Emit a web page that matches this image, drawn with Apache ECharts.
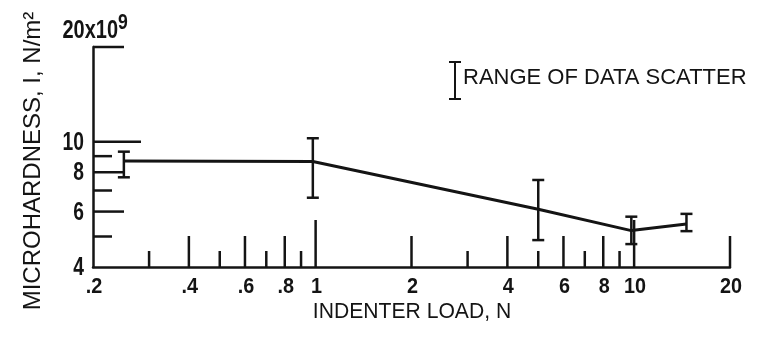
<!DOCTYPE html>
<html>
<head>
<meta charset="utf-8">
<script src="https://cdn.jsdelivr.net/npm/echarts@6/dist/echarts.min.js"></script>
<style>
  html, body { margin: 0; padding: 0; background: #fff; }
  #chart { width: 769px; height: 343px; }
</style>
</head>
<body>
<div id="chart"></div>
<script>
// axis ranges (log-log)
const xMin = 0.2, xMax = 20
const yMin = 4, yMax = 20

// measured points: indenter load (N) vs microhardness (x10^9 N/m^2)
const loads = [0.25, 0.98, 5, 9.8, 14.6]
const hardness = [8.69, 8.65, 6.1, 5.22, 5.48]
const scatterLow = [7.71, 6.64, 4.87, 4.73, 5.2]
const scatterHigh = [9.3, 10.26, 7.56, 5.78, 5.9]

// tick marks and labels
const xTicks = [0.3, 0.4, 0.5, 0.6, 0.7, 0.8, 0.9, 1, 2, 3, 4, 5, 6, 7, 8, 9, 10, 20]
const xLabelValues = [0.2, 0.4, 0.6, 0.8, 1, 2, 4, 6, 8, 10, 20]
const xLabelTexts = ['.2', '.4', '.6', '.8', '1', '2', '4', '6', '8', '10', '20']
const yTicks = [5, 6, 7, 8, 9, 10, 20]
const yLabelValues = [4, 6, 8, 10]
const yLabelTexts = ['4', '6', '8', '10']

const ink = '#141414'
const face = '"Liberation Sans", Arial, sans-serif'

// 1 -> long tick, 2/4/6/8 -> medium, 3/5/7/9 -> short
function mantissa(v) {
  return Math.round(v / Math.pow(10, Math.floor(Math.log10(v) + 1e-9)))
}
function xTickLen(v) {
  const m = mantissa(v)
  if (m === 1) return 47
  return m % 2 === 0 ? 31 : 16
}
function yTickLen(v) {
  const m = mantissa(v)
  if (m === 1) return 48
  return m % 2 === 0 ? 31 : 19
}

const chart = echarts.init(document.getElementById('chart'))

chart.setOption({
  animation: false,
  grid: { left: 93, right: 39, top: 47, bottom: 76 },
  xAxis: {
    type: 'log',
    logBase: 10,
    min: xMin,
    max: xMax,
    axisLine: { lineStyle: { color: ink, width: 2.5 } },
    axisTick: { show: false },
    axisLabel: { show: false },
    splitLine: { show: false }
  },
  yAxis: {
    type: 'log',
    logBase: 10,
    min: yMin,
    max: yMax,
    axisLine: { lineStyle: { color: ink, width: 2.5 } },
    axisTick: { show: false },
    axisLabel: { show: false },
    splitLine: { show: false }
  },
  graphic: [
    {
      type: 'text', x: 412, y: 312, scaleX: 0.96,
      style: { text: 'INDENTER LOAD, N', fill: ink, font: '22px ' + face, textAlign: 'center', textVerticalAlign: 'middle' }
    },
    {
      type: 'text', x: 33, y: 161, rotation: Math.PI / 2,
      style: { text: 'MICROHARDNESS, I, N/m\u00B2', fill: ink, font: '24px ' + face, textAlign: 'center', textVerticalAlign: 'middle' }
    },
    {
      type: 'group',
      x: 449,
      y: 62,
      children: [
        { type: 'line', shape: { x1: 6, y1: 0, x2: 6, y2: 37 }, style: { stroke: ink, lineWidth: 2 } },
        { type: 'line', shape: { x1: 0, y1: 0, x2: 12, y2: 0 }, style: { stroke: ink, lineWidth: 2 } },
        { type: 'line', shape: { x1: 0, y1: 37, x2: 12, y2: 37 }, style: { stroke: ink, lineWidth: 2 } },
        {
          type: 'text', x: 14, y: 16,
          style: { text: 'RANGE OF DATA SCATTER', fill: ink, font: '22px ' + face, textVerticalAlign: 'middle' }
        }
      ]
    }
  ],
  series: [
    {
      name: 'microhardness',
      type: 'line',
      data: loads.map((x, i) => [x, hardness[i]]),
      showSymbol: false,
      lineStyle: { color: ink, width: 3 },
      z: 3
    },
    {
      name: 'RANGE OF DATA SCATTER',
      type: 'custom',
      data: loads.map((x, i) => [x, scatterLow[i], scatterHigh[i]]),
      encode: { x: 0, y: [1, 2] },
      renderItem(params, api) {
        const lo = api.coord([api.value(0), api.value(1)])
        const hi = api.coord([api.value(0), api.value(2)])
        const w = 6
        const st = { stroke: ink, lineWidth: 2.5 }
        return {
          type: 'group',
          children: [
            { type: 'line', shape: { x1: lo[0], y1: lo[1], x2: hi[0], y2: hi[1] }, style: st },
            { type: 'line', shape: { x1: hi[0] - w, y1: hi[1], x2: hi[0] + w, y2: hi[1] }, style: st },
            { type: 'line', shape: { x1: lo[0] - w, y1: lo[1], x2: lo[0] + w, y2: lo[1] }, style: st }
          ]
        }
      },
      z: 4
    },
    {
      // x ticks rising from the bottom axis
      type: 'custom',
      silent: true,
      data: xTicks.map(v => [v, yMin]),
      renderItem(params, api) {
        const v = api.value(0)
        const p = api.coord([v, yMin])
        return {
          type: 'line',
          shape: { x1: p[0], y1: p[1], x2: p[0], y2: p[1] - xTickLen(v) },
          style: { stroke: ink, lineWidth: 2.5 }
        }
      }
    },
    {
      // y ticks pointing right from the left axis
      type: 'custom',
      silent: true,
      data: yTicks.map(v => [xMin, v]),
      renderItem(params, api) {
        const v = api.value(1)
        const p = api.coord([xMin, v])
        return {
          type: 'line',
          shape: { x1: p[0], y1: p[1], x2: p[0] + yTickLen(v), y2: p[1] },
          style: { stroke: ink, lineWidth: 2.5 }
        }
      }
    },
    {
      // x tick labels
      type: 'custom',
      silent: true,
      data: xLabelValues.map((v, i) => [v, yMin, i]),
      renderItem(params, api) {
        const p = api.coord([api.value(0), yMin])
        return {
          type: 'text',
          x: p[0] + 1,
          y: p[1] + 20,
          scaleX: 0.9,
          style: {
            text: xLabelTexts[api.value(2)],
            fill: ink,
            font: 'bold 22px ' + face,
            textAlign: 'center',
            textVerticalAlign: 'middle'
          }
        }
      }
    },
    {
      // y tick labels
      type: 'custom',
      silent: true,
      data: yLabelValues.map((v, i) => [xMin, v, i]),
      renderItem(params, api) {
        const p = api.coord([xMin, api.value(1)])
        return {
          type: 'text',
          x: p[0] - 9,
          y: p[1] + 1,
          scaleX: 0.74,
          style: {
            text: yLabelTexts[api.value(2)],
            fill: ink,
            font: 'bold 26px ' + face,
            textAlign: 'right',
            textVerticalAlign: 'middle'
          }
        }
      }
    },
    {
      // top label 20x10^9
      type: 'custom',
      silent: true,
      data: [[xMin, yMax]],
      renderItem(params, api) {
        const p = api.coord([xMin, yMax])
        return {
          type: 'group',
          children: [
            {
              type: 'text', x: p[0] + 25, y: p[1] - 16, scaleX: 0.8,
              style: { text: '20x10', fill: ink, font: 'bold 25px ' + face, textAlign: 'right', textVerticalAlign: 'middle' }
            },
            {
              type: 'text', x: p[0] + 25, y: p[1] - 24, scaleX: 0.8,
              style: { text: '9', fill: ink, font: 'bold 22px ' + face, textAlign: 'left', textVerticalAlign: 'middle' }
            }
          ]
        }
      }
    }
  ]
})

window.addEventListener('resize', () => chart.resize())
</script>
</body>
</html>
